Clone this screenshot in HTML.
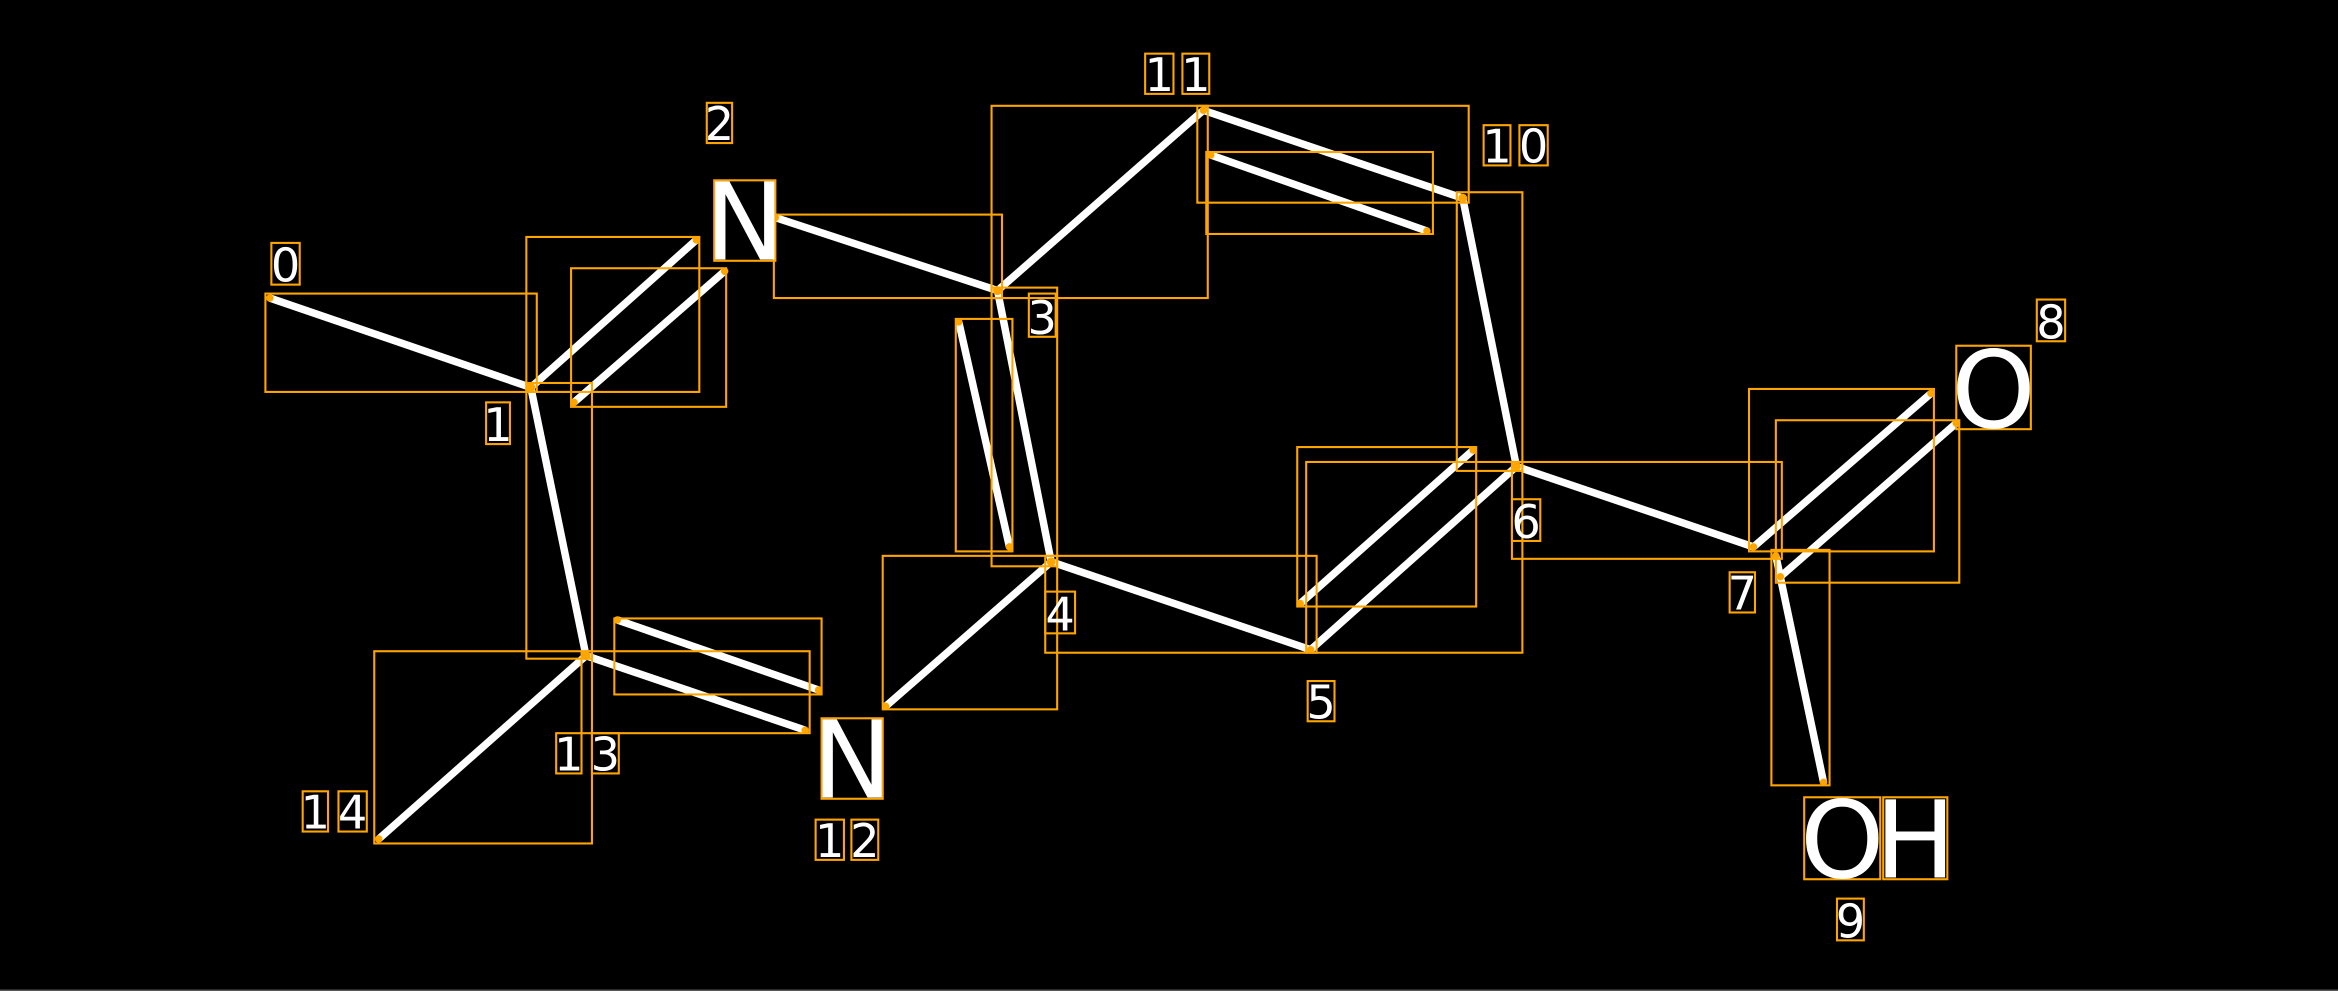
<!DOCTYPE html>
<html><head><style>html,body{margin:0;padding:0;background:#000;overflow:hidden}svg{display:block}</style></head>
<body>
<svg width="2338" height="991" viewBox="0 0 1568 665" xmlns="http://www.w3.org/2000/svg" preserveAspectRatio="none">
<rect width="1568" height="665" fill="#000"/>
<line x1="0" y1="664.5" x2="1568" y2="664.5" stroke="#555" stroke-width="1"/>
<g stroke="#fff" stroke-width="5" stroke-linecap="butt">
<line x1="181" y1="200" x2="356" y2="260"/>
<line x1="356" y1="260" x2="467" y2="161"/>
<line x1="385" y1="270" x2="486" y2="182"/>
<line x1="356" y1="260" x2="393" y2="440"/>
<line x1="520" y1="146" x2="669" y2="195"/>
<line x1="669" y1="195" x2="807" y2="74"/>
<line x1="807" y1="74" x2="981" y2="133"/>
<line x1="812" y1="104" x2="957" y2="155"/>
<line x1="669" y1="195" x2="705" y2="377"/>
<line x1="643" y1="216" x2="677" y2="367"/>
<line x1="705" y1="377" x2="594" y2="474"/>
<line x1="705" y1="377" x2="879" y2="436"/>
<line x1="879" y1="436" x2="1017" y2="313"/>
<line x1="872" y1="405" x2="988" y2="302"/>
<line x1="1017" y1="313" x2="981" y2="133"/>
<line x1="1017" y1="313" x2="1176" y2="367"/>
<line x1="1176" y1="367" x2="1295" y2="264"/>
<line x1="1194" y1="387" x2="1312" y2="284"/>
<line x1="1191" y1="373" x2="1223" y2="525"/>
<line x1="393" y1="440" x2="254" y2="563"/>
<line x1="393" y1="440" x2="540" y2="490"/>
<line x1="414" y1="416" x2="549" y2="463"/>
</g>
<g fill="none" stroke="#FFA500" stroke-width="1.4">
<rect x="178" y="197" width="182" height="66"/>
<rect x="353" y="159" width="116" height="104"/>
<rect x="383" y="180" width="104" height="93"/>
<rect x="353" y="257" width="44" height="185"/>
<rect x="519" y="144" width="153" height="56"/>
<rect x="665" y="71" width="145" height="129"/>
<rect x="803" y="71" width="182" height="65"/>
<rect x="809" y="102" width="152" height="55"/>
<rect x="665" y="193" width="44" height="187"/>
<rect x="641" y="214" width="38" height="156"/>
<rect x="592" y="373" width="117" height="103"/>
<rect x="701" y="373" width="182" height="65"/>
<rect x="876" y="310" width="145" height="128"/>
<rect x="870" y="300" width="120" height="107"/>
<rect x="977" y="129" width="44" height="187"/>
<rect x="1014" y="310" width="181" height="65"/>
<rect x="1173" y="261" width="124" height="109"/>
<rect x="1191" y="282" width="123" height="109"/>
<rect x="1188" y="369" width="39" height="158"/>
<rect x="251" y="437" width="146" height="129"/>
<rect x="390" y="437" width="153" height="55"/>
<rect x="412" y="415" width="139" height="51"/>
<rect x="479" y="121" width="41" height="54"/>
<rect x="1312" y="232" width="50" height="56"/>
<rect x="551" y="482" width="41" height="54"/>
<rect x="1210" y="535" width="51" height="55"/>
<rect x="1263" y="535" width="43" height="55"/>
<rect x="182" y="163" width="19" height="28"/>
<rect x="326" y="270" width="16" height="28"/>
<rect x="474" y="69" width="17" height="27"/>
<rect x="690" y="197" width="18" height="29"/>
<rect x="701" y="397" width="20" height="28"/>
<rect x="877" y="457" width="18" height="27"/>
<rect x="1014" y="335" width="19" height="28"/>
<rect x="1160" y="384" width="17" height="27"/>
<rect x="1366" y="201" width="19" height="28"/>
<rect x="1232" y="603" width="18" height="28"/>
<rect x="995" y="84" width="18" height="27"/><rect x="1019" y="84" width="19" height="27"/>
<rect x="768" y="36" width="19" height="27"/><rect x="793" y="36" width="18" height="27"/>
<rect x="547" y="550" width="19" height="27"/><rect x="571" y="550" width="18" height="27"/>
<rect x="373" y="492" width="17" height="27"/><rect x="397" y="492" width="18" height="27"/>
<rect x="203" y="531" width="17" height="27"/><rect x="227" y="531" width="19" height="27"/>
</g>
<g fill="#FFA500">
<circle cx="181" cy="200" r="2.5"/><circle cx="356" cy="260" r="3"/><circle cx="467" cy="161" r="2.5"/>
<circle cx="486" cy="182" r="2.5"/><circle cx="385" cy="270" r="2.5"/><circle cx="393" cy="440" r="3"/>
<circle cx="520" cy="146" r="2.5"/><circle cx="669" cy="195" r="3"/><circle cx="807" cy="74" r="2.5"/>
<circle cx="981" cy="133" r="3"/><circle cx="812" cy="104" r="2.5"/><circle cx="957" cy="155" r="2.5"/>
<circle cx="705" cy="377" r="3"/><circle cx="643" cy="216" r="2.5"/><circle cx="677" cy="367" r="2.5"/>
<circle cx="594" cy="474" r="2.5"/><circle cx="879" cy="436" r="2.5"/><circle cx="1017" cy="313" r="3"/>
<circle cx="872" cy="405" r="2.5"/><circle cx="988" cy="302" r="2.5"/><circle cx="1176" cy="367" r="2.5"/>
<circle cx="1295" cy="264" r="2.5"/><circle cx="1194" cy="387" r="2.5"/><circle cx="1312" cy="284" r="2.5"/>
<circle cx="1191" cy="373" r="2.5"/><circle cx="1223" cy="525" r="2.5"/><circle cx="254" cy="563" r="2.5"/>
<circle cx="540" cy="490" r="2.5"/><circle cx="414" cy="416" r="2.5"/><circle cx="549" cy="463" r="2.5"/>
</g>
<g fill="#fff" font-family="DejaVu Sans, sans-serif">
<g font-size="72" text-anchor="middle">
<text x="499.5" y="174">N</text>
<text x="571.5" y="535">N</text>
<text x="1337" y="287">O</text>
<text x="1235.5" y="589">O</text>
<text x="1284.5" y="589">H</text>
</g>
<g font-size="31" text-anchor="middle">
<text x="191.5" y="189">0</text>
<text x="334" y="296">1</text>
<text x="482.5" y="94">2</text>
<text x="699" y="224">3</text>
<text x="711" y="423">4</text>
<text x="886" y="482">5</text>
<text x="1023.5" y="361">6</text>
<text x="1168.5" y="409">7</text>
<text x="1375.5" y="227">8</text>
<text x="1241" y="629">9</text>
<text x="1004" y="109">1</text><text x="1028.5" y="109">0</text>
<text x="777.5" y="61">1</text><text x="802" y="61">1</text>
<text x="556.5" y="575">1</text><text x="580" y="575">2</text>
<text x="381.5" y="517">1</text><text x="406" y="517">3</text>
<text x="211.5" y="556">1</text><text x="236.5" y="556">4</text>
</g>
</g>
</svg>
</body></html>
